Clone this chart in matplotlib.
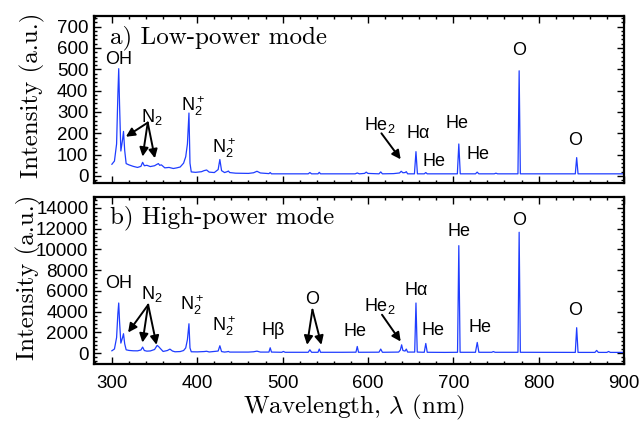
import matplotlib
matplotlib.use("Agg")
import matplotlib.pyplot as plt
from matplotlib.ticker import MultipleLocator

# emission spectrum, low-power mode
wl_low = [300, 303, 305.5, 307, 308, 309, 310.5, 312.5, 313.6, 315, 316.7, 320, 325,
          330, 334, 336, 338, 341, 345, 350, 353, 354.5, 356, 358, 362, 367, 372, 376,
          380, 384, 386.5, 388.5, 390.3, 391.5, 393, 398, 405, 408, 411, 414, 420,
          424.5, 426.5, 428.5, 432, 435, 436.5, 438, 445, 460, 466, 470, 474, 484,
          485.5, 487, 500, 530, 532, 534, 541.5, 543, 544.5, 560, 585, 587.5, 590,
          596, 598, 600, 613, 615, 617, 630, 637, 639, 641, 643.5, 645, 646.5, 654.5,
          656.3, 658, 666, 667.8, 669.5, 690, 704.8, 706.5, 708.2, 726, 728, 730, 748,
          750, 752, 775.8, 777.2, 778.6, 800, 843, 844.6, 846.2, 870, 900]
int_low = [55, 70, 150, 380, 503, 330, 117, 170, 209, 120, 58, 52, 45,
           40, 45, 64, 48, 50, 44, 48, 55, 58, 50, 52, 38, 40, 35, 38,
           42, 60, 90, 150, 295, 60, 19, 17, 20, 25, 28, 18, 16,
           30, 77, 25, 16, 20, 23, 16, 13, 12, 15, 22, 14, 11,
           16, 10, 10, 10, 16, 10, 10, 17, 10, 10, 10, 14, 10,
           12, 18, 12, 10, 19, 10, 11, 14, 22, 15, 16, 20, 10, 10,
           114, 10, 10, 16, 10, 10, 10, 150, 10, 10, 18, 10, 10,
           13, 10, 10, 493, 10, 10, 10, 86, 10, 10, 10]

# emission spectrum, high-power mode
wl_high = [300, 303, 305.5, 307, 308, 309, 310.5, 312.5, 313.6, 315, 316.7, 320, 325,
           330, 334, 336, 338, 341, 345, 350, 353, 354.5, 356.4, 360, 365, 368, 371,
           374, 380, 384, 386.5, 388.5, 390.3, 391.5, 393, 400, 408, 411, 414, 424.5,
           426.5, 428.5, 432, 435, 436.5, 438, 460, 466, 470, 474, 484, 485.5, 487,
           499, 501, 503, 530, 532, 534, 541.5, 543, 544.5, 570, 586, 587.5, 589, 613,
           615, 617, 636, 638, 639.5, 641, 643.5, 645, 646.5, 654.8, 656.3, 657.8, 666,
           667.8, 669.5, 690, 705, 706.5, 708, 726, 728.1, 730, 745, 747, 749, 775.8,
           777.2, 778.6, 843, 844.6, 846.2, 866, 868, 870, 880, 882, 884, 900]
int_high = [225, 400, 1500, 3800, 4830, 3000, 965, 1500, 1870, 900, 320, 260, 225,
            220, 300, 580, 250, 190, 210, 350, 740, 650, 480, 160, 250, 386, 200,
            130, 150, 250, 500, 1300, 2830, 500, 130, 120, 150, 180, 110, 200,
            710, 150, 100, 130, 160, 100, 100, 130, 190, 100, 100, 515, 100,
            80, 160, 80, 80, 320, 80, 80, 390, 80, 80, 90, 640, 80, 90,
            390, 80, 100, 300, 800, 250, 200, 390, 100, 100, 4830, 100, 80,
            930, 80, 70, 80, 10360, 80, 80, 1030, 80, 80, 150, 80, 80,
            11650, 80, 70, 2450, 70, 70, 260, 70, 70, 160, 70, 70]

plt.rcParams["font.family"] = ["Liberation Sans", "DejaVu Sans"]
plt.rcParams["mathtext.fontset"] = "custom"
plt.rcParams["mathtext.rm"] = "Liberation Sans"
plt.rcParams["mathtext.it"] = "Liberation Sans:italic"

line_color = "#1f3dff"
serif = "cmr10"

fig = plt.figure(figsize=(6.41, 4.25), dpi=100)
ax_a = fig.add_axes([0.1466, 0.5694, 0.8268, 0.393])
ax_b = fig.add_axes([0.1466, 0.1435, 0.8268, 0.393])

ax_a.plot(wl_low, int_low, color=line_color, lw=0.9)
ax_b.plot(wl_high, int_high, color=line_color, lw=0.9)

ax_a.set_ylim(-33, 750)
ax_b.set_ylim(-1050, 15050)
ax_a.yaxis.set_major_locator(MultipleLocator(100))
ax_a.yaxis.set_minor_locator(MultipleLocator(20))
ax_b.yaxis.set_major_locator(MultipleLocator(2000))
ax_b.yaxis.set_minor_locator(MultipleLocator(400))

for ax in (ax_a, ax_b):
    ax.set_xlim(279, 900)
    ax.xaxis.set_major_locator(MultipleLocator(100))
    ax.xaxis.set_minor_locator(MultipleLocator(20))
    ax.tick_params(which="both", direction="in", top=True, right=True, width=1.0,
                   labelsize=13.5)
    ax.tick_params(which="major", length=5)
    ax.tick_params(which="minor", length=2.5)
    ax.tick_params(axis="x", pad=8)
    ax.tick_params(axis="y", pad=4)
    for sp in ax.spines.values():
        sp.set_linewidth(1.6)

ax_a.tick_params(axis="x", labelbottom=False)

ax_a.text(0.030, 0.838, "a) Low-power mode", transform=ax_a.transAxes,
          family=serif, fontsize=18, va="baseline")
ax_b.text(0.030, 0.844, "b) High-power mode", transform=ax_b.transAxes,
          family=serif, fontsize=18, va="baseline")

fig.text(0.050, 0.776, "Intensity (a.u.)", rotation=90, family=serif, fontsize=18,
         ha="center", va="center")
fig.text(0.044, 0.348, "Intensity (a.u.)", rotation=90, family=serif, fontsize=18,
         ha="center", va="center")
fig.text(0.552, 0.042, r"Wavelength, $\lambda$ (nm)", family=serif, fontsize=18,
         ha="center", va="center", math_fontfamily="cm")

fs = 13
arrow = dict(arrowstyle="-|>", color="black", lw=1.4, mutation_scale=13,
             shrinkA=0, shrinkB=0)

# panel a labels
ax_a.text(308, 545, "OH", fontsize=fs, ha="center", va="center")
ax_a.text(346.5, 278, r"N$_2$", fontsize=fs, ha="center", va="center")
for tx, ty in [(316.4, 184), (336, 91), (350.4, 83)]:
    ax_a.annotate("", xy=(tx, ty), xytext=(342, 250), arrowprops=arrow)
ax_a.text(394.5, 325, r"N$_2^+$", fontsize=fs, ha="center", va="center")
ax_a.text(431, 131, r"N$_2^+$", fontsize=fs, ha="center", va="center")
ax_a.text(613.8, 239, r"He$_2$", fontsize=fs, ha="center", va="center")
ax_a.annotate("", xy=(638.4, 78), xytext=(615.8, 200), arrowprops=arrow)
ax_a.text(658.7, 200, "Hα", fontsize=fs, ha="center", va="center")
ax_a.text(678, 67, "He", fontsize=fs, ha="center", va="center")
ax_a.text(704.3, 244, "He", fontsize=fs, ha="center", va="center")
ax_a.text(729, 99, "He", fontsize=fs, ha="center", va="center")
ax_a.text(777, 588, "O", fontsize=fs, ha="center", va="center")
ax_a.text(843.3, 166, "O", fontsize=fs, ha="center", va="center")

# panel b labels
ax_b.text(308, 6690, "OH", fontsize=fs, ha="center", va="center")
ax_b.text(346.5, 5720, r"N$_2$", fontsize=fs, ha="center", va="center")
for tx, ty in [(319, 1990), (335.8, 1020), (352.3, 800)]:
    ax_b.annotate("", xy=(tx, ty), xytext=(342.5, 4660), arrowprops=arrow)
ax_b.text(393.3, 4660, r"N$_2^+$", fontsize=fs, ha="center", va="center")
ax_b.text(431, 2570, r"N$_2^+$", fontsize=fs, ha="center", va="center")
ax_b.text(488.9, 2180, "Hβ", fontsize=fs, ha="center", va="center")
ax_b.text(535, 5140, "O", fontsize=fs, ha="center", va="center")
for tx, ty in [(528.7, 800), (545.5, 800)]:
    ax_b.annotate("", xy=(tx, ty), xytext=(535, 4180), arrowprops=arrow)
ax_b.text(584.5, 2090, "He", fontsize=fs, ha="center", va="center")
ax_b.text(613.8, 4570, r"He$_2$", fontsize=fs, ha="center", va="center")
ax_b.annotate("", xy=(638.4, 1120), xytext=(616.5, 3700), arrowprops=arrow)
ax_b.text(656, 6040, "Hα", fontsize=fs, ha="center", va="center")
ax_b.text(676.3, 2180, "He", fontsize=fs, ha="center", va="center")
ax_b.text(706.7, 11740, "He", fontsize=fs, ha="center", va="center")
ax_b.text(731, 2510, "He", fontsize=fs, ha="center", va="center")
ax_b.text(777, 12830, "O", fontsize=fs, ha="center", va="center")
ax_b.text(843.3, 4120, "O", fontsize=fs, ha="center", va="center")

fig.savefig("out.png", dpi=100)
